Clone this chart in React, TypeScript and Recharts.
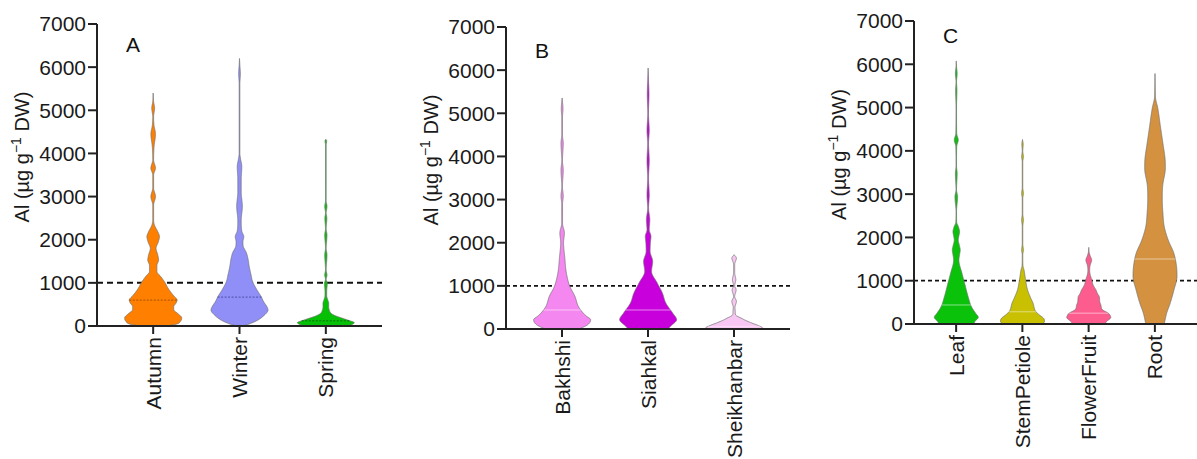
import React from 'react';
import { ComposedChart, Bar, XAxis, YAxis } from 'recharts';

// shared axis values
const yTicks = [0, 1000, 2000, 3000, 4000, 5000, 6000, 7000];
const threshold = 1000;

// panel A - seasons
const seasonNames = ['Autumn', 'Winter', 'Spring'];
const seasonColors = ['#ff8000', '#8f8ff7', '#06c006'];
const seasonMedianColors = ['#9a4a00', '#4848a0', '#006400'];
const seasonMedians = [600, 670, 120];
// [value, relative density]
const autumnProfile = [
  [0, 0.45], [40, 0.8], [120, 0.97], [190, 1.0], [280, 0.88], [380, 0.72], [450, 0.72],
  [530, 0.8], [600, 0.84], [700, 0.72], [800, 0.6], [900, 0.5], [1000, 0.42], [1150, 0.26],
  [1260, 0.13], [1400, 0.13], [1530, 0.19], [1650, 0.16], [1800, 0.1], [1950, 0.18],
  [2070, 0.22], [2200, 0.15], [2330, 0.05], [2450, 0.015], [2800, 0.015], [3000, 0.08],
  [3200, 0.015], [3500, 0.015], [3660, 0.08], [3850, 0.015], [4150, 0.03], [4450, 0.08],
  [4650, 0.03], [4850, 0.015], [5050, 0.05], [5200, 0.015], [5400, 0],
];
const winterProfile = [
  [0, 0.1], [50, 0.35], [140, 0.65], [250, 0.87], [370, 1.0], [460, 0.95], [560, 0.85],
  [680, 0.76], [850, 0.6], [1030, 0.46], [1200, 0.4], [1380, 0.34], [1550, 0.3], [1700, 0.24],
  [1850, 0.13], [1950, 0.12], [2070, 0.15], [2200, 0.08], [2450, 0.06], [2770, 0.1],
  [3100, 0.06], [3400, 0.06], [3690, 0.08], [3900, 0.03], [4000, 0.012], [5600, 0.012],
  [5850, 0.03], [6050, 0.012], [6200, 0],
];
const springProfile = [
  [0, 0.75], [30, 0.9], [77, 1.0], [130, 0.8], [180, 0.58], [230, 0.36], [290, 0.19],
  [370, 0.12], [450, 0.1], [530, 0.1], [600, 0.07], [700, 0.03], [800, 0.03], [990, 0.05],
  [1080, 0.012], [1180, 0.04], [1300, 0.012], [1650, 0.04], [1800, 0.012], [2110, 0.04],
  [2250, 0.012], [2500, 0.035], [2620, 0.012], [2770, 0.04], [2900, 0.012], [4200, 0.012],
  [4290, 0.03], [4330, 0],
];

// panel B - regions
const regionNames = ['Bakhshi', 'Siahkal', 'Sheikhanbar'];
const regionColors = ['#f487f0', '#c800dc', '#f8c6f2'];
const regionMedians = [440, 440, 60];
const bakhshiProfile = [
  [0, 0.6], [100, 0.9], [216, 1.0], [300, 0.85], [370, 0.74], [524, 0.57], [756, 0.45],
  [988, 0.27], [1298, 0.15], [1683, 0.09], [2000, 0.05], [2225, 0.08], [2450, 0.015],
  [2900, 0.015], [3075, 0.04], [3300, 0.012], [3690, 0.04], [3900, 0.012], [4310, 0.04],
  [4500, 0.012], [4900, 0.012], [5100, 0.03], [5355, 0],
];
const siahkalProfile = [
  [0, 0.7], [60, 0.78], [216, 1.0], [370, 0.86], [603, 0.62], [834, 0.5], [1066, 0.32],
  [1335, 0.12], [1567, 0.16], [1800, 0.07], [2000, 0.08], [2147, 0.1], [2300, 0.04],
  [2533, 0.06], [2800, 0.015], [3100, 0.04], [3500, 0.015], [3900, 0.04], [4300, 0.015],
  [4600, 0.04], [5000, 0.012], [5430, 0.03], [5800, 0.012], [6050, 0],
];
const sheikhanbarProfile = [
  [0, 1.0], [23, 1.0], [80, 0.85], [139, 0.62], [200, 0.4], [255, 0.24], [300, 0.1],
  [331, 0.05], [400, 0.04], [500, 0.03], [640, 0.08], [750, 0.02], [911, 0.07], [1000, 0.02],
  [1143, 0.06], [1300, 0.02], [1500, 0.02], [1645, 0.08], [1722, 0],
];

// panel C - organs
const organNames = ['Leaf', 'StemPetiole', 'FlowerFruit', 'Root'];
const organColors = ['#0ac20a', '#c8c000', '#fd5c8f', '#d4913f'];
const organMedians = [440, 285, 250, 1500];
const leafProfile = [
  [0, 0.8], [53, 0.84], [155, 1.0], [247, 0.88], [400, 0.69], [630, 0.54], [940, 0.38],
  [1170, 0.26], [1477, 0.12], [1600, 0.15], [1708, 0.18], [1820, 0.14], [1940, 0.09],
  [2040, 0.12], [2130, 0.15], [2245, 0.1], [2350, 0.02], [2600, 0.012], [2940, 0.06],
  [3100, 0.012], [3480, 0.04], [3650, 0.012], [4100, 0.02], [4250, 0.09], [4400, 0.02],
  [5000, 0.012], [5400, 0.03], [5600, 0.012], [5785, 0.04], [5950, 0.012], [6077, 0],
];
const stemPetioleProfile = [
  [0, 0.9], [53, 1.0], [131, 0.96], [208, 0.77], [290, 0.6], [362, 0.54], [478, 0.48],
  [593, 0.38], [785, 0.23], [1015, 0.14], [1150, 0.1], [1246, 0.07], [1350, 0.02],
  [1600, 0.012], [1708, 0.04], [1850, 0.012], [2250, 0.012], [2400, 0.04], [2550, 0.012],
  [2900, 0.012], [3016, 0.04], [3150, 0.012], [3750, 0.012], [3862, 0.04], [4000, 0.012],
  [4150, 0.03], [4262, 0],
];
const flowerFruitProfile = [
  [0, 0.75], [53, 0.8], [150, 1.0], [208, 0.96], [247, 0.9], [330, 0.62], [438, 0.55],
  [515, 0.5], [630, 0.48], [700, 0.4], [785, 0.33], [900, 0.2], [1015, 0.14], [1150, 0.06],
  [1246, 0.04], [1350, 0.06], [1477, 0.13], [1580, 0.06], [1650, 0.02], [1770, 0],
];
const rootProfile = [
  [0, 0.42], [250, 0.53], [480, 0.69], [785, 0.86], [1100, 1.0], [1320, 0.98], [1630, 0.86],
  [1940, 0.6], [2250, 0.42], [2550, 0.36], [2900, 0.33], [3200, 0.35], [3600, 0.47],
  [3800, 0.46], [4170, 0.36], [4550, 0.25], [5000, 0.12], [5200, 0.03], [5400, 0.012],
  [5786, 0],
];

// monotone cubic through the density points (no overshoot)
function makeDensity(profile: number[][]) {
  const n = profile.length;
  const xs = profile.map((p) => p[0]);
  const ys = profile.map((p) => p[1]);
  const m: number[] = [];
  for (let i = 0; i < n - 1; i++) m.push((ys[i + 1] - ys[i]) / (xs[i + 1] - xs[i]));
  const t: number[] = new Array(n);
  t[0] = m[0];
  t[n - 1] = m[n - 2];
  for (let i = 1; i < n - 1; i++) t[i] = m[i - 1] * m[i] <= 0 ? 0 : (m[i - 1] + m[i]) / 2;
  for (let i = 0; i < n - 1; i++) {
    if (m[i] === 0) {
      t[i] = 0;
      t[i + 1] = 0;
      continue;
    }
    const a = t[i] / m[i];
    const b = t[i + 1] / m[i];
    const s = a * a + b * b;
    if (s > 9) {
      const tau = 3 / Math.sqrt(s);
      t[i] = tau * a * m[i];
      t[i + 1] = tau * b * m[i];
    }
  }
  return (v: number) => {
    if (v <= xs[0]) return ys[0];
    if (v >= xs[n - 1]) return ys[n - 1];
    let i = 0;
    while (v > xs[i + 1]) i++;
    const h = xs[i + 1] - xs[i];
    const s = (v - xs[i]) / h;
    const s2 = s * s;
    const s3 = s2 * s;
    return (
      (2 * s3 - 3 * s2 + 1) * ys[i] +
      (s3 - 2 * s2 + s) * h * t[i] +
      (-2 * s3 + 3 * s2) * ys[i + 1] +
      (s3 - s2) * h * t[i + 1]
    );
  };
}

type ViolinStyle = {
  colors: string[];
  medianColors?: string[];
  names: string[];
  plotLeft: number;
  plotRight: number;
  dash: string;
  dashWidth: number;
};

const makeViolin = (style: ViolinStyle) => (props: any) => {
  const { x, y, width, height, payload } = props;
  if (!payload || !height) return <g />;
  const idx = style.names.indexOf(payload.name);
  const { profile, top, median } = payload;
  const base = y + height;
  const toPx = (v: number) => base - (v / top) * height; // linear scale from bar geometry
  const cx = x + width / 2;
  const half = width / 2;
  const dens = makeDensity(profile);
  const vMin = profile[0][0];
  const steps = Math.max(4, Math.ceil((toPx(vMin) - toPx(top)) * 2));
  const right: string[] = [];
  const left: string[] = [];
  for (let i = 0; i <= steps; i++) {
    const v = vMin + ((top - vMin) * i) / steps;
    const d = Math.max(dens(v), 0) * half;
    const py = toPx(v);
    right.push(`${(cx + d).toFixed(2)},${py.toFixed(2)}`);
    left.push(`${(cx - d).toFixed(2)},${py.toFixed(2)}`);
  }
  const path = `M${right.join('L')}L${left.reverse().join('L')}Z`;
  const md = dens(median) * half;
  const my = toPx(median);
  const dark = style.medianColors;
  const ty = toPx(threshold);
  return (
    <g>
      {/* threshold line goes under the first violin so every violin covers it */}
      {idx === 0 && (
        <line
          x1={style.plotLeft}
          x2={style.plotRight}
          y1={ty}
          y2={ty}
          stroke="#111"
          strokeWidth={style.dashWidth}
          strokeDasharray={style.dash}
        />
      )}
      <path d={path} fill={style.colors[idx]} stroke="#707070" strokeWidth={0.7} />
      <line
        x1={cx - md}
        x2={cx + md}
        y1={my}
        y2={my}
        stroke={dark ? dark[idx] : '#ffffff'}
        strokeOpacity={dark ? 0.9 : 0.35}
        strokeWidth={dark ? 1 : 1.5}
        strokeDasharray={dark ? '2 1.5' : undefined}
      />
    </g>
  );
};

const CategoryTick = (props: any) => {
  const { x, y, payload } = props;
  return (
    <text
      x={x}
      y={y}
      transform={`rotate(-90 ${x} ${y})`}
      textAnchor="end"
      dy="0.36em"
      fontSize={21}
      fill="#1a1a1a"
    >
      {payload.value}
    </text>
  );
};

const makeTitle = (letter: string, letterDy: number) => (props: any) => {
  const vb = props.viewBox || { x: 0, y: 0, width: 0, height: 0 };
  const axisX = vb.x + vb.width;
  const tx = axisX - 68;
  const ty = vb.y + vb.height / 2 - 18;
  return (
    <g>
      <text
        x={tx}
        y={ty}
        transform={`rotate(-90 ${tx} ${ty})`}
        textAnchor="middle"
        fontSize={20}
        fill="#1a1a1a"
      >
        Al (µg g
        <tspan dy={-8} fontSize={14}>
          −1
        </tspan>
        <tspan dy={8}> DW)</tspan>
      </text>
      <text x={axisX + 29} y={vb.y + letterDy} fontSize={21} fill="#111">
        {letter}
      </text>
    </g>
  );
};

type PanelProps = {
  left: number;
  width: number;
  top: number;
  bottom: number;
  axisWidth: number;
  rightMargin: number;
  pad: number;
  letter: string;
  letterDy: number;
  names: string[];
  profiles: number[][][];
  medians: number[];
  colors: string[];
  medianColors?: string[];
  dash: string;
  dashWidth: number;
};

const Panel = (p: PanelProps) => {
  const data = p.names.map((name, i) => ({
    name,
    top: p.profiles[i][p.profiles[i].length - 1][0],
    profile: p.profiles[i],
    median: p.medians[i],
  }));
  const xAxisHeight = 120;
  const violin = makeViolin({
    colors: p.colors,
    medianColors: p.medianColors,
    names: p.names,
    plotLeft: p.axisWidth,
    plotRight: p.width - p.rightMargin,
    dash: p.dash,
    dashWidth: p.dashWidth,
  });
  return (
    <div style={{ position: 'absolute', left: p.left, top: 0 }}>
      <ComposedChart
        width={p.width}
        height={459}
        data={data}
        barCategoryGap="17%"
        margin={{ top: p.top, right: p.rightMargin, bottom: 459 - p.bottom - xAxisHeight, left: 0 }}
      >
        <XAxis
          dataKey="name"
          type="category"
          interval={0}
          height={xAxisHeight}
          padding={{ left: p.pad, right: p.pad }}
          tick={<CategoryTick />}
          tickSize={8}
          tickMargin={3}
          axisLine={{ stroke: '#222', strokeWidth: 2 }}
          tickLine={{ stroke: '#222', strokeWidth: 2 }}
        />
        <YAxis
          type="number"
          domain={[0, 7000]}
          ticks={yTicks}
          interval={0}
          width={p.axisWidth}
          tickSize={9}
          tickMargin={2}
          tick={{ fontSize: 21, fill: '#1a1a1a' }}
          axisLine={{ stroke: '#222', strokeWidth: 2 }}
          tickLine={{ stroke: '#222', strokeWidth: 2 }}
          label={{ content: makeTitle(p.letter, p.letterDy) }}
        />
        <Bar dataKey="top" isAnimationActive={false} shape={violin} />
      </ComposedChart>
    </div>
  );
};

export default function App() {
  return (
    <div
      style={{
        position: 'absolute',
        left: 0,
        top: 0,
        width: 1197,
        height: 459,
        background: '#fff',
        overflow: 'hidden',
        fontFamily: '"Liberation Sans", Arial, sans-serif',
      }}
    >
      <Panel
        left={0}
        width={390}
        top={24}
        bottom={326}
        axisWidth={97}
        rightMargin={8}
        pad={13}
        letter="A"
        letterDy={28}
        names={seasonNames}
        profiles={[autumnProfile, winterProfile, springProfile]}
        medians={seasonMedians}
        colors={seasonColors}
        medianColors={seasonMedianColors}
        dash="6 4"
        dashWidth={2}
      />
      <Panel
        left={400}
        width={395}
        top={27}
        bottom={329}
        axisWidth={106}
        rightMargin={5}
        pad={13}
        letter="B"
        letterDy={31}
        names={regionNames}
        profiles={[bakhshiProfile, siahkalProfile, sheikhanbarProfile]}
        medians={regionMedians}
        colors={regionColors}
        dash="4 3"
        dashWidth={1.8}
      />
      <Panel
        left={800}
        width={397}
        top={21}
        bottom={324}
        axisWidth={114}
        rightMargin={0}
        pad={9}
        letter="C"
        letterDy={22}
        names={organNames}
        profiles={[leafProfile, stemPetioleProfile, flowerFruitProfile, rootProfile]}
        medians={organMedians}
        colors={organColors}
        dash="4 3"
        dashWidth={1.8}
      />
    </div>
  );
}
